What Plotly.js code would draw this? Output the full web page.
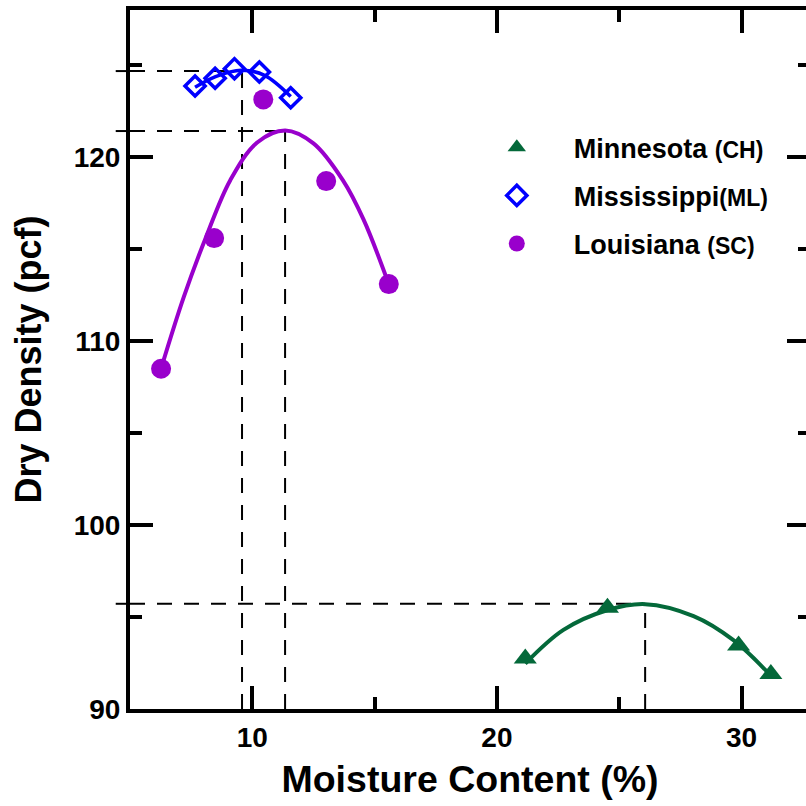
<!DOCTYPE html>
<html>
<head>
<meta charset="utf-8">
<script src="https://cdn.plot.ly/plotly-3.0.1.min.js"></script>
<style>
html, body { margin: 0; padding: 0; overflow: hidden; background: #fff; }
#chart { width: 812px; height: 806px; }
</style>
</head>
<body>
<div id="chart"></div>
<script>
// ---- data ----
const seriesNames = ["Minnesota", "Mississippi", "Louisiana"];
const seriesSuffix = ["(CH)", "(ML)", "(SC)"];

const mnMoisture = [21.16, 24.52, 29.88, 31.2];
const mnDensity  = [92.75, 95.5, 93.45, 91.9];

const msMoisture = [7.66, 8.48, 9.27, 10.29, 11.57];
const msDensity  = [123.87, 124.29, 124.81, 124.63, 123.23];

const laMoisture = [6.27, 8.44, 10.45, 13.02, 15.58];
const laDensity  = [108.5, 115.6, 123.14, 118.7, 113.1];

// fitted compaction curves
const mnFitX = [21.16, 22.72, 24.5, 26.06, 28.04, 29.67, 31.18];
const mnFitY = [92.47, 94.3, 95.37, 95.7, 95.05, 93.74, 91.84];
const msFitX = [7.66, 8.5, 9.55, 10.5, 11.57];
const msFitY = [123.8, 124.38, 124.72, 124.45, 123.3];
const laFitX = [6.27, 7.2, 8.15, 9.1, 10.2, 11.35, 12.5, 13.7, 14.55, 15.55];
const laFitY = [108.5, 112.4, 115.8, 118.75, 120.8, 121.45, 120.75, 118.75, 116.6, 113.2];

// optimum moisture content / maximum dry density (Minnesota, Mississippi, Louisiana)
const optMoisture = [26.06, 9.58, 11.34];
const maxDensity  = [95.72, 124.68, 121.42];

const xRange = [5, 32.8];
const yRange = [90, 128];
const xTicks = [10, 20, 30];
const yTicks = [90, 100, 110, 120];

// ---- styling ----
const colors = ["#04693a", "#0000ff", "#9900cc"];
const FONT = "Arial, 'Liberation Sans', Helvetica, sans-serif";

function legendLabel(i, sep) {
  return "<b>" + seriesNames[i] + sep + "<span style='font-size:23px'>" + seriesSuffix[i] + "</span></b>";
}

const traces = [
  { x: mnFitX, y: mnFitY, mode: "lines", line: { color: colors[0], width: 4, shape: "spline", smoothing: 1 }, showlegend: false, hoverinfo: "skip" },
  { x: msFitX, y: msFitY, mode: "lines", line: { color: colors[1], width: 3.5, shape: "spline", smoothing: 1 }, showlegend: false, hoverinfo: "skip" },
  { x: laFitX, y: laFitY, mode: "lines", line: { color: colors[2], width: 4, shape: "spline", smoothing: 1 }, showlegend: false, hoverinfo: "skip" },
  { x: mnMoisture, y: mnDensity, mode: "markers", name: legendLabel(0, " "), legendgroup: "a",
    marker: { symbol: "triangle-up", size: 20, color: colors[0] } },
  { x: msMoisture, y: msDensity, mode: "markers", name: legendLabel(1, ""), legendgroup: "b",
    marker: { symbol: "diamond-open", size: 15.5, color: colors[1], line: { width: 3.5, color: colors[1] } } },
  { x: laMoisture, y: laDensity, mode: "markers", name: legendLabel(2, " "), legendgroup: "c",
    marker: { symbol: "circle", size: 20, color: colors[2] } }
];

const dash = "15px,12px";
const shapes = [];
for (let i = 0; i < optMoisture.length; i++) {
  shapes.push({ type: "line", xref: "x", yref: "y", x0: xRange[0], x1: optMoisture[i], y0: maxDensity[i], y1: maxDensity[i],
    line: { color: "#000", width: 2, dash: dash }, layer: "below" });
  shapes.push({ type: "line", xref: "x domain", yref: "y", x0: -0.021, x1: 0, y0: maxDensity[i], y1: maxDensity[i],
    line: { color: "#000", width: 2 }, layer: "below" });
  shapes.push({ type: "line", xref: "x", yref: "y", x0: optMoisture[i], x1: optMoisture[i], y0: yRange[0], y1: maxDensity[i],
    line: { color: "#000", width: 2, dash: dash }, layer: "below" });
}

const axisCommon = {
  showline: true, linecolor: "#000", linewidth: 4, mirror: "ticks",
  ticks: "inside", ticklen: 23, tickwidth: 4, tickcolor: "#000",
  showgrid: false, zeroline: false,
  tickfont: { family: FONT, size: 28, color: "#000", weight: 700 },
  minor: { ticks: "inside", ticklen: 12, tickwidth: 4, tickcolor: "#000", dtick: 5, showgrid: false }
};

const layout = {
  width: 812, height: 806,
  margin: { l: 130, r: 2, t: 10, b: 97 },
  paper_bgcolor: "#fff", plot_bgcolor: "#fff",
  font: { family: FONT, color: "#000" },
  xaxis: Object.assign({}, axisCommon, {
    range: xRange, tickvals: xTicks, ticktext: xTicks.map(String),
    minor: Object.assign({}, axisCommon.minor, { tick0: 0 }),
    title: { text: "Moisture Content (%)", font: { family: FONT, size: 37.5, weight: 700, color: "#000" }, standoff: 15 }
  }),
  yaxis: Object.assign({}, axisCommon, {
    range: yRange, tickvals: yTicks, ticktext: yTicks.map(String),
    minor: Object.assign({}, axisCommon.minor, { tick0: 0 }),
    title: { text: "Dry Density (pcf)", font: { family: FONT, size: 36, weight: 700, color: "#000" }, standoff: 22 }
  }),
  legend: {
    x: 0.485, y: 0.838, xanchor: "left", yanchor: "top",
    bgcolor: "rgba(0,0,0,0)", borderwidth: 0,
    font: { family: FONT, size: 27, color: "#000" },
    tracegroupgap: 10, itemwidth: 104
  },
  shapes: shapes,
  showlegend: true
};

Plotly.newPlot("chart", traces, layout, { displayModeBar: false, staticPlot: true });
</script>
</body>
</html>
